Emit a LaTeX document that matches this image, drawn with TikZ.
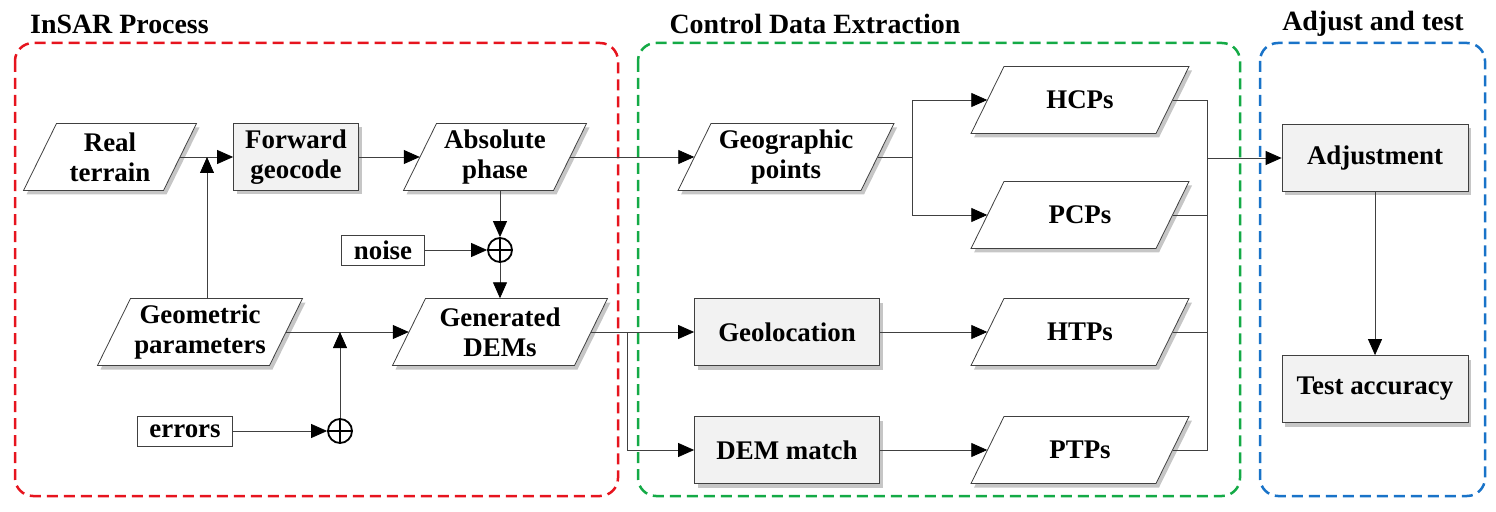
\documentclass[tikz,border=0pt]{standalone}
\usepackage{fontspec}
\setmainfont{Liberation Serif}
\usetikzlibrary{shadows,calc,arrows.meta}
\definecolor{bred}{RGB}{230,20,30}
\definecolor{bgreen}{RGB}{20,170,70}
\definecolor{bblue}{RGB}{25,115,200}
\tikzset{
  txt/.style={font=\bfseries\fontsize{27}{30}\selectfont, align=center, inner sep=0},
  shad/.style={drop shadow={opacity=0.45, shadow xshift=3bp, shadow yshift=-4bp}},
  pshape/.style={draw=black!75, line width=0.8bp, fill=white, shad},
  pnode/.style={txt, minimum height=67bp},
  rbox/.style={txt, draw=black!75, line width=0.8bp, fill=black!5, shad, minimum height=67bp},
  sbox/.style={txt, draw=black!75, line width=0.8bp, fill=white, minimum height=30bp, inner xsep=12bp},
  con/.style={draw=black!75, line width=0.8bp},
  arr/.style={con, -{Triangle[length=16bp,width=14bp,color=black]}},
  oplus/.style={circle, draw=black, line width=1.8bp, minimum size=24bp, inner sep=0,
     path picture={\draw[line width=1.8bp] (path picture bounding box.north) -- (path picture bounding box.south)
       (path picture bounding box.west) -- (path picture bounding box.east);}},
  region/.style={line width=2.5bp, dash pattern=on 11bp off 6bp, rounded corners=18bp},
  title/.style={font=\bfseries\fontsize{28}{30}\selectfont, inner sep=0}
}
% name, center, edge length, text
\newcommand\pgram[4]{%
  \path[pshape] ($(#2)+(-#3/2+16.5,-33.5)$) -- ($(#2)+(#3/2+16.5,-33.5)$) -- ($(#2)+(#3/2-16.5,33.5)$) -- ($(#2)+(-#3/2-16.5,33.5)$) -- cycle;
  \node[pnode, minimum width=#3bp] (#1) at (#2) {#4};}
\begin{document}
\begin{tikzpicture}[x=1bp,y=-1bp]
\useasboundingbox (0,0) rectangle (1496,512);
% regions
\draw[region, bred] (15,43) rectangle (618,496);
\draw[region, bgreen] (638,43) rectangle (1240,496);
\draw[region, bblue] (1260,43) rectangle (1485,496);
\node[title, anchor=west] (t1) at (30,24) {InSAR Process};
\node[title] (t2) at (815,24) {Control Data Extraction};
\node[title] (t3) at (1373,24) {Adjust and test};
% nodes
\pgram{real}{110,157}{140}{Real\\terrain}
\node[rbox, minimum width=125bp] (fwd) at (296,157) {Forward\\geocode};
\pgram{abs}{495,157}{150}{Absolute\\phase}
\pgram{geom}{200,332}{172}{Geometric\\parameters}
\pgram{dem}{500,332}{182}{Generated\\DEMs}
\node[sbox] (noise) at (383,250) {noise};
\node[oplus] (op1) at (500,250) {};
\node[sbox] (err) at (185,431) {errors};
\node[oplus] (op2) at (340,431) {};
\pgram{geo}{786,157}{183}{Geographic\\points}
\pgram{hcp}{1080,100}{185}{HCPs}
\pgram{pcp}{1080,215}{185}{PCPs}
\pgram{htp}{1080,332}{185}{HTPs}
\pgram{ptp}{1080,450}{185}{PTPs}
\node[rbox, minimum width=185bp] (gl) at (787,332) {Geolocation};
\node[rbox, minimum width=185bp] (dm) at (787,450) {DEM match};
\node[rbox, minimum width=186bp] (adj) at (1375,158) {Adjustment};
\node[rbox, minimum width=186bp] (acc) at (1375,389) {Test accuracy};
\coordinate (j1) at (207,157);
\coordinate (j2) at (340,332);
\coordinate (j3) at (912,157);
\coordinate (j4) at (627,332);
\coordinate (j5) at (1207,158);
% connectors
\draw[arr] (real.east) -- (fwd.west);
\draw[arr] (geom.north -| j1) -- (j1);
\draw[arr] (fwd.east) -- (abs.west);
\draw[arr] (abs.south -| op1) -- (op1.north);
\draw[arr] (noise.east) -- (op1.west);
\draw[arr] (op1.south) -- (dem.north -| op1);
\draw[arr] (geom.east) -- (dem.west);
\draw[arr] (err.east) -- (op2.west);
\draw[arr] (op2.north) -- (j2);
\draw[arr] (abs.east) -- (geo.west);
\draw[con] (geo.east) -- (j3);
\draw[arr] (j3) |- (hcp.west);
\draw[arr] (j3) |- (pcp.west);
\draw[arr] (dem.east) -- (gl.west);
\draw[arr] (j4) |- (dm.west);
\draw[arr] (gl.east) -- (htp.west);
\draw[arr] (dm.east) -- (ptp.west);
\draw[con] (hcp.east) -| (j5);
\draw[con] (pcp.east) -| (j5);
\draw[con] (htp.east) -| (j5);
\draw[con] (ptp.east) -| (j5);
\draw[arr] (j5) -- (adj.west);
\draw[arr] (adj.south) -- (acc.north);
\end{tikzpicture}
\end{document}
